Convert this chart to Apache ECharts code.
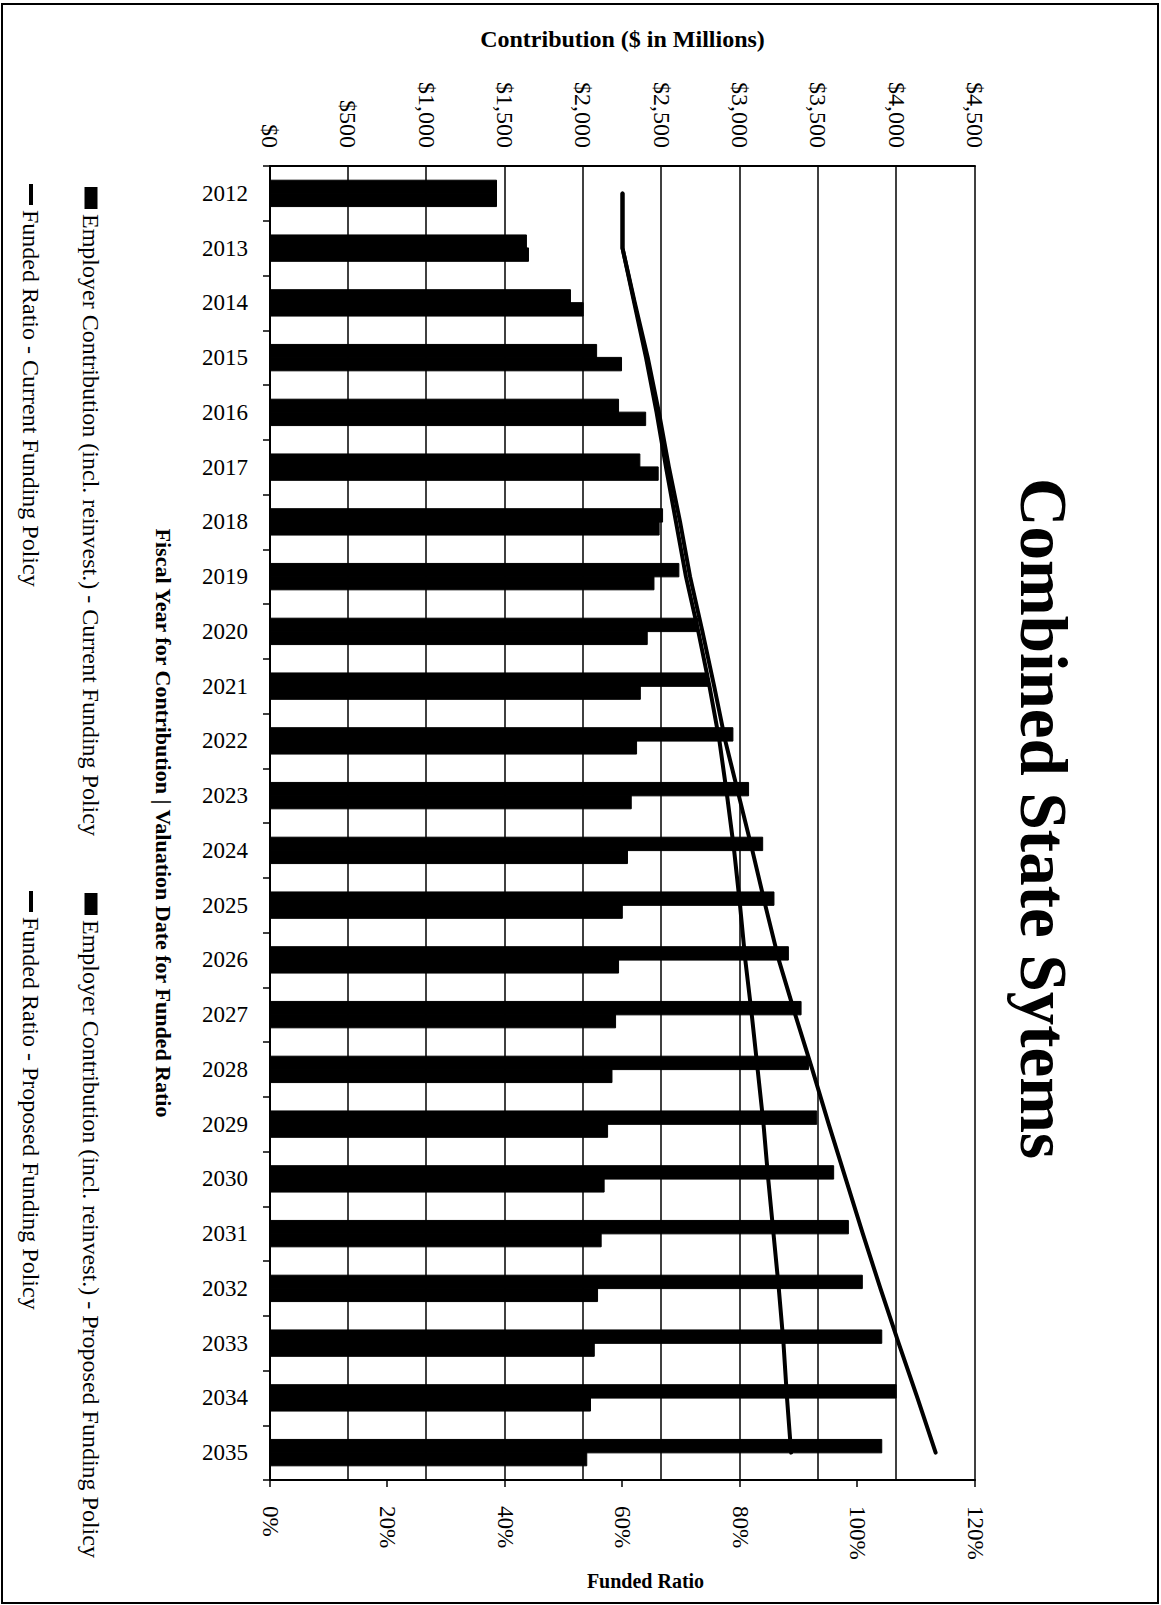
<!DOCTYPE html>
<html>
<head>
<meta charset="utf-8">
<script src="https://cdn.jsdelivr.net/npm/echarts@6/dist/echarts.min.js"></script>
<style>
html,body{margin:0;padding:0;background:#fff;width:1161px;height:1605px;overflow:hidden;}
#wrap{position:absolute;left:0;top:0;width:1605px;height:1161px;transform-origin:0 0;transform:translate(1161px,0) rotate(90deg);}
#frame{position:absolute;left:1px;top:3px;width:1154px;height:1597px;border:2px solid #000;pointer-events:none;}
</style>
</head>
<body>
<div id="wrap"></div>
<div id="frame"></div>
<script>
// ---- data ----
const years = ['2012','2013','2014','2015','2016','2017','2018','2019','2020','2021','2022','2023',
               '2024','2025','2026','2027','2028','2029','2030','2031','2032','2033','2034','2035'];
// Employer contribution ($ millions)
const contribCurrent  = [1449,1640,1921,2088,2228,2364,2509,2613,2735,2800,2958,3058,
                         3148,3220,3312,3393,3440,3493,3601,3695,3784,3908,4000,3908];
const contribProposed = [1449,1653,2002,2247,2401,2481,2487,2454,2411,2367,2343,2309,
                         2285,2252,2228,2209,2186,2158,2136,2117,2094,2073,2049,2025];
// Funded ratio (%)
const ratioCurrent  = [60.0,60.0,62.0,64.0,65.8,67.4,69.1,70.8,72.9,74.8,76.5,77.8,
                       79.0,80.0,80.9,82.0,83.0,84.0,84.8,85.7,86.6,87.4,88.0,88.7];
const ratioProposed = [60.0,60.0,62.1,64.3,66.2,67.9,69.8,71.5,73.6,75.6,77.5,79.8,
                       82.1,84.3,86.6,89.4,92.3,95.1,98.0,100.9,103.9,107.0,110.2,113.3];
// axis ticks
const contribTicks = [0,500,1000,1500,2000,2500,3000,3500,4000,4500];
const ratioTicks   = [0,20,40,60,80,100,120];

const names = [
  'Employer Contribution (incl. reinvest.) - Current Funding Policy',
  'Employer Contribution (incl. reinvest.) - Proposed Funding Policy',
  'Funded Ratio - Current Funding Policy',
  'Funded Ratio - Proposed Funding Policy'
];

const serif = '"Liberation Serif", "Times New Roman", serif';
const txt = (size, bold) => ({fontFamily: serif, fontSize: size, fontWeight: bold ? 'bold' : 'normal', color: '#000'});

const chart = echarts.init(document.getElementById('wrap'), null, {renderer: 'svg', width: 1605, height: 1161});

function legendFor(name, left, top, isLine) {
  return {
    data: [{name: name, icon: 'rect'}],
    left: left, top: top, padding: 0, itemGap: 0,
    itemWidth: isLine ? 21 : 22, itemHeight: isLine ? 4 : 13,
    itemStyle: {color: '#000', borderWidth: 0},
    textStyle: txt(24, false),
    selectedMode: false
  };
}

const option = {
  backgroundColor: '#fff',
  animation: false,
  title: {
    text: 'Combined State Sytems',
    left: 478, top: 84, padding: 0,
    textStyle: txt(67, true)
  },
  legend: [
    legendFor(names[0], 187, 1058, false),
    legendFor(names[1], 893, 1058, false),
    legendFor(names[2], 184, 1118, true),
    legendFor(names[3], 891, 1118, true)
  ],
  grid: {left: 166, right: 125, top: 186, bottom: 270, containLabel: false, outerBoundsMode: 'none'},
  xAxis: {
    type: 'category',
    data: years,
    axisLine: {show: true, lineStyle: {color: '#000', width: 2}},
    axisTick: {show: true, length: 7, lineStyle: {color: '#000', width: 1.5}},
    axisLabel: Object.assign({rotate: 90, margin: 22, interval: 0}, txt(23, false)),
    splitLine: {show: false},
    name: 'Fiscal Year for Contribution | Valuation Date for Funded Ratio',
    nameLocation: 'middle', nameGap: 96,
    nameTextStyle: txt(22, true)
  },
  yAxis: [
    {
      type: 'value', position: 'left',
      min: contribTicks[0], max: contribTicks[contribTicks.length - 1],
      interval: contribTicks[1] - contribTicks[0],
      axisLine: {show: true, lineStyle: {color: '#000', width: 2}},
      axisTick: {show: false},
      splitLine: {show: true, lineStyle: {color: '#000', width: 1.5}},
      axisLabel: Object.assign({margin: 18, formatter: v => '$' + v.toLocaleString('en-US')}, txt(24, false)),
      name: 'Contribution ($ in Millions)',
      nameLocation: 'middle', nameRotate: 90, nameGap: 115,
      nameTextStyle: txt(24, true)
    },
    {
      type: 'value', position: 'right',
      min: ratioTicks[0], max: ratioTicks[ratioTicks.length - 1],
      interval: ratioTicks[1] - ratioTicks[0],
      axisLine: {show: true, lineStyle: {color: '#000', width: 2}},
      axisTick: {show: true, length: 7, lineStyle: {color: '#000', width: 1.5}},
      splitLine: {show: false},
      axisLabel: Object.assign({margin: 26, formatter: '{value}%'}, txt(23, false)),
      name: 'Funded Ratio',
      nameLocation: 'middle', nameRotate: 90, nameGap: 88,
      nameTextStyle: Object.assign({padding: [0, 0, 0, 46]}, txt(20, true))
    }
  ],
  series: [
    {name: names[0], type: 'bar', data: contribCurrent, yAxisIndex: 0,
     barGap: '-10%', barCategoryGap: '50%',
     itemStyle: {color: '#000', borderColor: '#000', borderWidth: 1}},
    {name: names[1], type: 'bar', data: contribProposed, yAxisIndex: 0,
     barGap: '-10%', barCategoryGap: '50%',
     itemStyle: {color: '#000', borderColor: '#000', borderWidth: 1}},
    {name: names[2], type: 'line', data: ratioCurrent, yAxisIndex: 1,
     symbol: 'none', showSymbol: false, z: 5,
     lineStyle: {color: '#000', width: 4, cap: 'round', join: 'round'}, itemStyle: {color: '#000'}},
    {name: names[3], type: 'line', data: ratioProposed, yAxisIndex: 1,
     symbol: 'none', showSymbol: false, z: 5,
     lineStyle: {color: '#000', width: 4, cap: 'round', join: 'round'}, itemStyle: {color: '#000'}}
  ]
};
chart.setOption(option);
</script>
</body>
</html>
